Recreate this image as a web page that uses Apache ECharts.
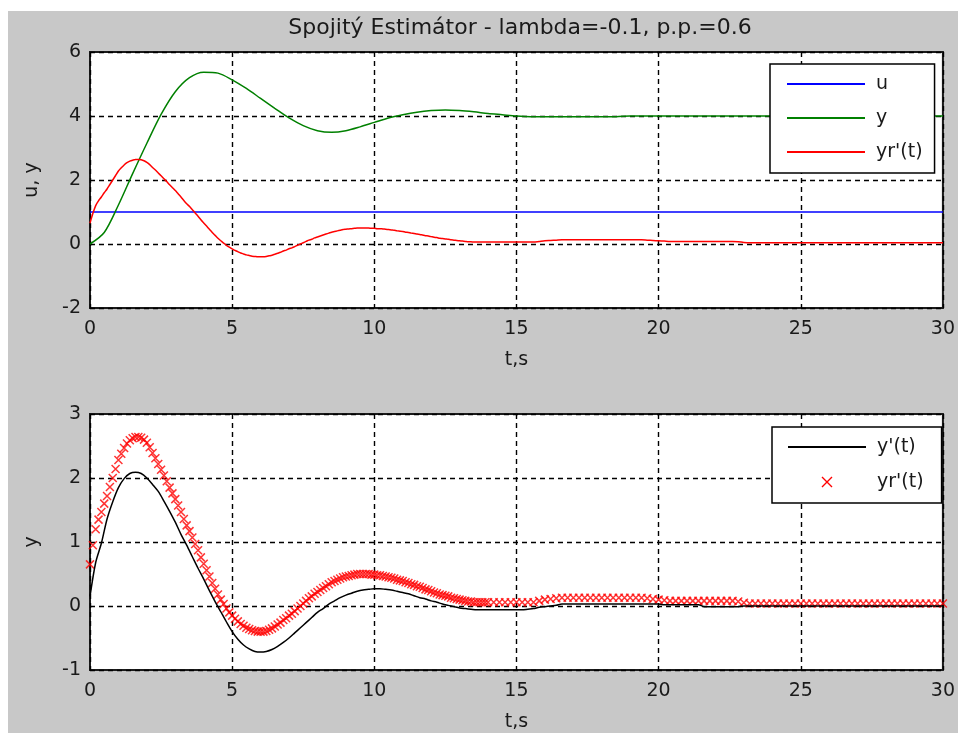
<!DOCTYPE html>
<html>
<head>
<meta charset="utf-8">
<script src="https://cdn.jsdelivr.net/npm/echarts@6/dist/echarts.min.js"></script>
<style>
    html, body { margin: 0; padding: 0; background: #fff; }
    #chart { width: 958px; height: 733px; }
</style>
</head>
<body>
<div id="chart"></div>
<script>
// time grids (s)
const uTime = [0, 30]

// top plot: u, y (y every 0.5 s)
const uVals = [1, 1]
const yVals = [
    0, 0.36, 1.22, 2.2, 3.15, 4.05, 4.76, 5.2, 5.37, 5.34,
    5.13, 4.86, 4.55, 4.24, 3.94, 3.70, 3.54, 3.49, 3.54, 3.66,
    3.80, 3.94, 4.04, 4.12, 4.17, 4.19, 4.17, 4.13, 4.08, 4.04,
    4.0, 3.98, 3.98, 3.98, 3.98, 3.98, 3.98, 3.98, 4.0, 4.0,
    4.0, 4.0, 4.0, 4.0, 4.0, 4.0, 4.0, 4.0, 4.0, 4.0,
    4.0, 4.0, 4.0, 4.0, 4.0, 4.0, 4.0, 4.0, 4.0, 4.0,
    4.0
]

// yr'(t): 0..13.9 s every 0.1 s, then 14..30 s every 0.2 s
const yrEarly = [
    0.65, 0.95, 1.2, 1.35, 1.47, 1.6, 1.72, 1.86, 2.0, 2.14,
    2.28, 2.38, 2.47, 2.54, 2.59, 2.62, 2.64, 2.64, 2.63, 2.6,
    2.55, 2.48, 2.39, 2.31, 2.22, 2.13, 2.04, 1.95, 1.85, 1.76,
    1.67, 1.57, 1.47, 1.36, 1.26, 1.17, 1.07, 0.97, 0.87, 0.76,
    0.66, 0.56, 0.46, 0.36, 0.27, 0.18, 0.10, 0.03, -0.04, -0.10,
    -0.15, -0.20, -0.24, -0.28, -0.31, -0.34, -0.36, -0.38, -0.39, -0.40,
    -0.40, -0.40, -0.39, -0.37, -0.35, -0.32, -0.29, -0.26, -0.22, -0.19,
    -0.15, -0.12, -0.08, -0.04, 0.0, 0.04, 0.08, 0.12, 0.15, 0.19,
    0.22, 0.25, 0.28, 0.31, 0.34, 0.37, 0.39, 0.41, 0.43, 0.45,
    0.46, 0.47, 0.48, 0.49, 0.50, 0.50, 0.50, 0.50, 0.50, 0.49,
    0.49, 0.48, 0.48, 0.47, 0.46, 0.45, 0.44, 0.43, 0.41, 0.40,
    0.39, 0.37, 0.36, 0.34, 0.33, 0.31, 0.30, 0.28, 0.26, 0.25,
    0.23, 0.21, 0.20, 0.18, 0.17, 0.16, 0.15, 0.13, 0.12, 0.11,
    0.10, 0.09, 0.08, 0.07, 0.07, 0.06, 0.06, 0.06, 0.06, 0.06
]
const yrLate = [
    0.06, 0.06, 0.06, 0.06, 0.06, 0.06, 0.06, 0.06, 0.06, 0.08,
    0.10, 0.11, 0.12, 0.13, 0.13, 0.13, 0.13, 0.13, 0.13, 0.13,
    0.13, 0.13, 0.13, 0.13, 0.13, 0.13, 0.13, 0.13, 0.12, 0.11,
    0.10, 0.09, 0.08, 0.08, 0.08, 0.08, 0.08, 0.08, 0.08, 0.08,
    0.08, 0.08, 0.08, 0.08, 0.07, 0.05, 0.04, 0.04, 0.04, 0.04,
    0.04, 0.04, 0.04, 0.04, 0.04, 0.04, 0.04, 0.04, 0.04, 0.04,
    0.04, 0.04, 0.04, 0.04, 0.04, 0.04, 0.04, 0.04, 0.04, 0.04,
    0.04, 0.04, 0.04, 0.04, 0.04, 0.04, 0.04, 0.04, 0.04, 0.04,
    0.04
]

// y'(t), every 0.2 s
const ydVals = [
    0.15, 0.68, 0.98, 1.36, 1.63, 1.85, 1.99, 2.07, 2.09, 2.07,
    2.00, 1.90, 1.79, 1.64, 1.48, 1.31, 1.12, 0.95, 0.77, 0.59,
    0.42, 0.24, 0.07, -0.09, -0.25, -0.40, -0.52, -0.61, -0.67, -0.71,
    -0.72, -0.71, -0.68, -0.63, -0.57, -0.50, -0.42, -0.34, -0.26, -0.18,
    -0.10, -0.04, 0.03, 0.08, 0.13, 0.17, 0.20, 0.23, 0.25, 0.26,
    0.27, 0.27, 0.26, 0.25, 0.23, 0.21, 0.19, 0.16, 0.13, 0.11,
    0.08, 0.06, 0.03, 0.01, -0.01, -0.03, -0.04, -0.05, -0.06, -0.06,
    -0.06, -0.06, -0.06, -0.06, -0.06, -0.06, -0.06, -0.05, -0.04, -0.02,
    -0.01, 0.00, 0.01, 0.03, 0.03, 0.03, 0.03, 0.03, 0.03, 0.03,
    0.03, 0.03, 0.03, 0.03, 0.03, 0.03, 0.03, 0.03, 0.03, 0.03,
    0.03, 0.02, 0.02, 0.02, 0.02, 0.02, 0.02, 0.02, -0.01, -0.01,
    -0.01, -0.01, -0.01, -0.01, -0.01, 0, 0, 0, 0, 0,
    0, 0, 0, 0, 0, 0, 0, 0, 0, 0,
    0, 0, 0, 0, 0, 0, 0, 0, 0, 0,
    0, 0, 0, 0, 0, 0, 0, 0, 0, 0,
    0
]

const xTicks = [0, 5, 10, 15, 20, 25, 30]

function seg(start, step, vals) {
    return vals.map((v, i) => [+(start + i * step).toFixed(2), v])
}

const yrData = seg(0, 0.1, yrEarly).concat(seg(14, 0.2, yrLate))

const font = 'DejaVu Sans'
const txt = '#1a1a1a'
const xMark = 'path://M0 0L10 10M10 0L0 10'

function xAxisCfg(gridIndex) {
    return {
        type: 'value',
        gridIndex: gridIndex,
        min: xTicks[0],
        max: xTicks[xTicks.length - 1],
        interval: 5,
        name: 't,s',
        nameLocation: 'middle',
        nameGap: 43,
        nameTextStyle: {color: txt, fontFamily: font, fontSize: 19},
        axisLine: {show: false},
        axisTick: {show: false},
        axisLabel: {color: txt, fontFamily: font, fontSize: 19, margin: 12},
        splitLine: {lineStyle: {color: '#000', type: [5, 4], width: 1.4}}
    }
}

function yAxisCfg(gridIndex, min, max, interval, name) {
    return {
        type: 'value',
        gridIndex: gridIndex,
        min: min,
        max: max,
        interval: interval,
        name: name,
        nameLocation: 'middle',
        nameGap: 48,
        nameTextStyle: {color: txt, fontFamily: font, fontSize: 19},
        axisLine: {show: false},
        axisTick: {show: false},
        axisLabel: {color: txt, fontFamily: font, fontSize: 19, margin: 9},
        splitLine: {lineStyle: {color: '#000', type: [5, 4], width: 1.4}}
    }
}

function legendCfg(data, left, top, gap, padding, iconH) {
    return {
        data: data,
        orient: 'vertical',
        left: left,
        top: top,
        padding: padding,
        itemGap: gap,
        itemWidth: 78,
        itemHeight: iconH,
        backgroundColor: '#fff',
        borderColor: '#000',
        borderWidth: 1.5,
        borderRadius: 0,
        itemStyle: {opacity: 0},
        textStyle: {color: txt, fontFamily: font, fontSize: 19, lineHeight: 22, padding: [0, 0, 0, 6]}
    }
}

let chart = echarts.init(document.getElementById('chart'))
chart.setOption({
    animation: false,
    backgroundColor: '#c8c8c8',
    textStyle: {fontFamily: font},
    graphic: [
        {type: 'rect', shape: {x: 0, y: 0, width: 958, height: 11}, style: {fill: '#fff'}},
        {type: 'rect', shape: {x: 0, y: 0, width: 8, height: 733}, style: {fill: '#fff'}}
    ],
    title: {
        text: 'Spojitý Estimátor - lambda=-0.1, p.p.=0.6',
        left: 515,
        top: 12,
        textAlign: 'center',
        textStyle: {color: txt, fontFamily: font, fontSize: 22, fontWeight: 'normal'}
    },
    legend: [
        legendCfg(['u', 'y', "yr'(t)"], 770, 64, 12, [9, 12, 10, 16], 12),
        legendCfg([
            "y'(t)",
            {name: "yr'(t) ", icon: xMark, itemStyle: {opacity: 1, color: '#ff0000', borderColor: '#ff0000', borderWidth: 1.4}}
        ], 772, 427, 13, [9, 12, 10, 15], 10)
    ],
    grid: [
        {left: 90, top: 52, width: 856, height: 256, show: true, backgroundColor: '#fff', borderColor: '#1a1a1a', borderWidth: 2},
        {left: 90, top: 414, width: 856, height: 257, show: true, backgroundColor: '#fff', borderColor: '#1a1a1a', borderWidth: 2}
    ],
    xAxis: [xAxisCfg(0), xAxisCfg(1)],
    yAxis: [
        yAxisCfg(0, -2, 6, 2, 'u, y'),
        yAxisCfg(1, -1, 3, 1, 'y')
    ],
    series: [
        {
            name: 'u',
            type: 'line',
            xAxisIndex: 0,
            yAxisIndex: 0,
            symbol: 'none',
            data: uTime.map((t, i) => [t, uVals[i]]),
            lineStyle: {color: '#0000ff', width: 1.5},
            itemStyle: {color: '#0000ff'}
        },
        {
            name: 'y',
            type: 'line',
            xAxisIndex: 0,
            yAxisIndex: 0,
            symbol: 'none',
            smooth: 0.3,
            data: seg(0, 0.5, yVals),
            lineStyle: {color: '#008000', width: 1.5},
            itemStyle: {color: '#008000'}
        },
        {
            name: "yr'(t)",
            type: 'line',
            xAxisIndex: 0,
            yAxisIndex: 0,
            symbol: 'none',
            smooth: 0.3,
            data: yrData,
            lineStyle: {color: '#ff0000', width: 1.5},
            itemStyle: {color: '#ff0000'}
        },
        {
            name: "y'(t)",
            type: 'line',
            xAxisIndex: 1,
            yAxisIndex: 1,
            symbol: 'none',
            smooth: 0.3,
            data: seg(0, 0.2, ydVals),
            lineStyle: {color: '#000', width: 1.5},
            itemStyle: {color: '#000'}
        },
        {
            name: "yr'(t) ",
            type: 'scatter',
            xAxisIndex: 1,
            yAxisIndex: 1,
            symbol: xMark,
            symbolSize: 8,
            data: yrData,
            itemStyle: {color: '#ff0000', borderColor: '#ff0000', borderWidth: 1.5}
        }
    ]
})
</script>
</body>
</html>
